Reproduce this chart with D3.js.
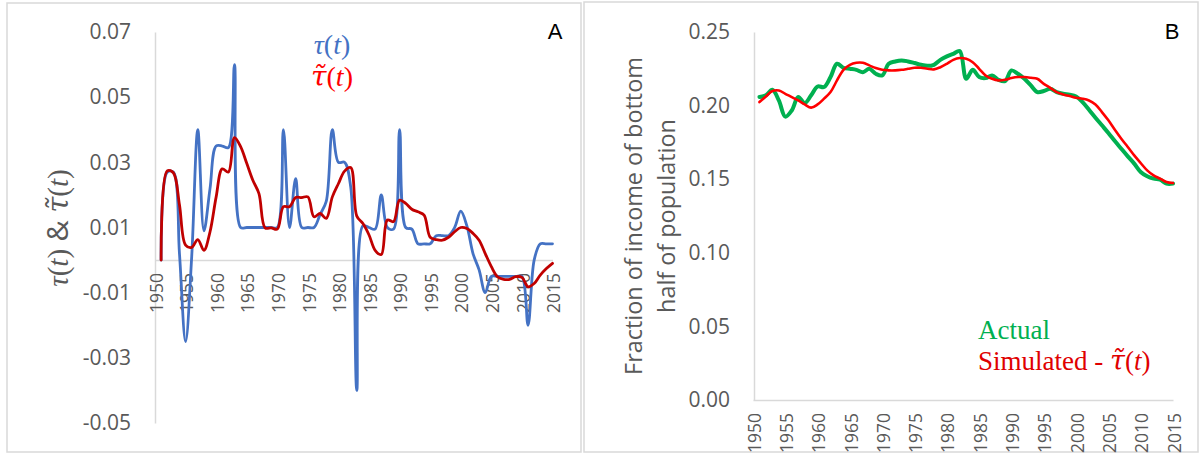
<!DOCTYPE html>
<html>
<head>
<meta charset="utf-8">
<script src="https://cdn.jsdelivr.net/npm/d3@7"></script>
<style>
  body { margin: 0; background: #fff; }
  svg { display: block; }
  .axis path { stroke: #d9d9d9; stroke-width: 1.5px; }
  .axis text { fill: #595959; font-family: 'Open Sans', sans-serif; }
  .ytick text { font-size: 21px; }
  .xtick text { font-size: 17.5px; }
  .line { fill: none; stroke-linejoin: round; stroke-linecap: round; }
  .tilde { font-family: 'DejaVu Serif', serif; font-style: italic; }
</style>
</head>
<body>
<svg id="chart" width="1203" height="454"></svg>
<script>
'use strict';

// years on both panels
var years = [1951, 1952, 1953, 1954, 1955, 1956, 1957, 1958, 1959, 1960,
  1961, 1962, 1963, 1964, 1965, 1966, 1967, 1968, 1969, 1970,
  1971, 1972, 1973, 1974, 1975, 1976, 1977, 1978, 1979, 1980,
  1981, 1982, 1983, 1984, 1985, 1986, 1987, 1988, 1989, 1990,
  1991, 1992, 1993, 1994, 1995, 1996, 1997, 1998, 1999, 2000,
  2001, 2002, 2003, 2004, 2005, 2006, 2007, 2008, 2009, 2010,
  2011, 2012, 2013, 2014, 2015];

// panel A
var tau = [0.000, 0.027, 0.027, 0.002, -0.025, 0.001, 0.040, 0.009, 0.022, 0.035,
  0.035, 0.0345, 0.060, 0.010, 0.010, 0.010, 0.010, 0.010, 0.010, 0.010,
  0.040, 0.010, 0.025, 0.010, 0.010, 0.010, 0.014, 0.018, 0.040, 0.030,
  0.030, 0.0225, -0.040, 0.0105, 0.010, 0.0095, 0.020, 0.010, 0.0095, 0.040,
  0.010, 0.0095, 0.005, 0.005, 0.005, 0.0075, 0.0075, 0.0075, 0.010, 0.015,
  0.0105, 0.002, -0.003, -0.010, -0.005, -0.005, -0.005, -0.005, -0.005, -0.005,
  -0.020, 0.000, 0.005, 0.005, 0.005];
var tauSim = [0.000, 0.0274, 0.0268, 0.017, 0.0046, 0.0039, 0.0063, 0.003, 0.0087, 0.0194,
  0.028, 0.027, 0.0376, 0.0348, 0.0297, 0.0245, 0.0204, 0.0099, 0.0099, 0.0095,
  0.0164, 0.0164, 0.0192, 0.0192, 0.0194, 0.0133, 0.0143, 0.0128, 0.0194, 0.0235,
  0.0273, 0.0284, 0.0135, 0.0112, 0.0077, 0.003, 0.0017, 0.0123, 0.0118, 0.0184,
  0.0174, 0.0156, 0.0148, 0.0138, 0.007, 0.0063, 0.0061, 0.007, 0.0087, 0.010,
  0.0097, 0.0082, 0.0061, 0.002, -0.002, -0.0051, -0.0059, -0.0059, -0.0051, -0.0053,
  -0.0082, -0.0072, -0.0046, -0.0026, -0.001];

// panel B
var actual = [0.2058, 0.207, 0.2108, 0.2035, 0.1925, 0.1967, 0.2058, 0.2017, 0.207, 0.213,
  0.2126, 0.2194, 0.2284, 0.2257, 0.225, 0.2243, 0.2227, 0.225, 0.2216, 0.2205,
  0.2284, 0.230, 0.2307, 0.230, 0.2289, 0.2277, 0.227, 0.2277, 0.2311, 0.2334,
  0.2352, 0.237, 0.2182, 0.2243, 0.2194, 0.2187, 0.2205, 0.2175, 0.2166, 0.2239,
  0.2216, 0.2182, 0.2137, 0.2092, 0.2099, 0.2114, 0.2092, 0.208, 0.2074, 0.2062,
  0.2024, 0.1972, 0.1918, 0.1866, 0.1814, 0.1759, 0.1707, 0.1655, 0.1606, 0.1549,
  0.152, 0.1504, 0.1497, 0.147, 0.147];
var simulated = [0.2024, 0.2062, 0.2099, 0.2103, 0.208, 0.2058, 0.2035, 0.2008, 0.1986, 0.2008,
  0.2047, 0.2092, 0.2171, 0.2243, 0.2277, 0.2291, 0.2291, 0.2273, 0.2255, 0.2243,
  0.2239, 0.2239, 0.2243, 0.225, 0.2257, 0.2257, 0.225, 0.2246, 0.2261, 0.2284,
  0.2311, 0.2323, 0.2318, 0.2295, 0.225, 0.2205, 0.2182, 0.2171, 0.2175, 0.2187,
  0.2194, 0.2194, 0.2189, 0.2182, 0.2148, 0.2121, 0.2092, 0.2076, 0.2065, 0.2053,
  0.2047, 0.2035, 0.2008, 0.1956, 0.19, 0.1836, 0.1775, 0.1719, 0.1662, 0.161,
  0.156, 0.1526, 0.1504, 0.1481, 0.1474];

// tick labels
var xTicks = [1950, 1955, 1960, 1965, 1970, 1975, 1980, 1985, 1990, 1995, 2000, 2005, 2010, 2015];
var yTicksA = [-0.05, -0.03, -0.01, 0.01, 0.03, 0.05, 0.07];
var yTicksB = [0, 0.05, 0.10, 0.15, 0.20, 0.25];

var svg = d3.select('#chart');
var serif = 'Liberation Serif, serif';

// panel frames
svg.append('rect').attr('x', 7).attr('y', 3).attr('width', 574).attr('height', 449)
  .attr('fill', 'none').attr('stroke', '#d9d9d9').attr('stroke-width', 1.5);
svg.append('rect').attr('x', 584).attr('y', 2).attr('width', 614).attr('height', 450)
  .attr('fill', 'none').attr('stroke', '#d9d9d9').attr('stroke-width', 1.5);

function pairs(vals) {
  return years.map(function (y, i) { return [y, vals[i]]; });
}

function xAxis(g, scale, y0) {
  g.attr('class', 'axis xtick')
    .attr('transform', 'translate(0,' + y0 + ')')
    .call(d3.axisBottom(scale).tickValues(xTicks).tickSize(0).tickSizeOuter(0)
      .tickFormat(d3.format('d')));
  g.selectAll('text')
    .attr('transform', 'rotate(-90)')
    .attr('text-anchor', 'end')
    .attr('x', -13)
    .attr('y', 1)
    .attr('dy', '0.35em');
}

function yAxis(g, scale, x0, ticks) {
  var f = d3.format('.2f');
  g.attr('class', 'axis ytick')
    .attr('transform', 'translate(' + x0 + ',0)')
    .call(d3.axisLeft(scale).tickValues(ticks).tickSize(0).tickSizeOuter(0)
      .tickPadding(24).tickFormat(function (d) { return f(d).replace('\u2212', '-'); }));
}

// tau(t) style label; tilde puts a combining tilde on the tau
function mathText(sel, tilde) {
  if (tilde) {
    sel.append('tspan').attr('class', 'tilde').text('τ\u0303');
  } else {
    sel.append('tspan').style('font-family', serif).style('font-style', 'italic').text('τ');
  }
  sel.append('tspan').style('font-family', serif).text('(');
  sel.append('tspan').style('font-family', serif).style('font-style', 'italic').text('t');
  sel.append('tspan').style('font-family', serif).text(')');
}

var curve = d3.curveCatmullRom.alpha(0.5);

// ---- panel A ----
var xA = d3.scaleLinear().domain([1950, 2015]).range([155, 552.5]);
var yA = d3.scaleLinear().domain([-0.05, 0.07]).range([423, 32]);
var lineA = d3.line().x(function (d) { return xA(d[0]); }).y(function (d) { return yA(d[1]); }).curve(curve);

svg.append('g').call(yAxis, yA, 155, yTicksA);
svg.append('g').call(xAxis, xA, yA(0));

svg.append('path').datum(pairs(tau)).attr('class', 'line')
  .attr('stroke', '#4472c4').attr('stroke-width', 2.8).attr('d', lineA);
svg.append('path').datum(pairs(tauSim)).attr('class', 'line')
  .attr('stroke', '#c00000').attr('stroke-width', 2.8).attr('d', lineA);

var titleA = svg.append('text')
  .attr('transform', 'translate(68,228) rotate(-90)')
  .attr('text-anchor', 'middle')
  .attr('fill', '#595959')
  .style('font-size', '29px');
mathText(titleA, false);
titleA.append('tspan').style('font-family', 'Open Sans, sans-serif').text(' & ');
mathText(titleA, true);

// legend A
svg.append('text').attr('x', 332).attr('y', 54).attr('text-anchor', 'middle')
  .attr('fill', '#4472c4').style('font-size', '28px').call(mathText, false);
svg.append('text').attr('x', 332).attr('y', 86).attr('text-anchor', 'middle')
  .attr('fill', '#ff0000').style('font-size', '28px').call(mathText, true);

svg.append('text').attr('x', 555).attr('y', 39).attr('text-anchor', 'middle')
  .style('font-family', 'Liberation Sans, Arial, sans-serif').style('font-size', '22px')
  .attr('fill', '#000').text('A');

// ---- panel B ----
var xB = d3.scaleLinear().domain([1950, 2015]).range([753, 1173]);
var yB = d3.scaleLinear().domain([0, 0.25]).range([400, 32]);
var lineB = d3.line().x(function (d) { return xB(d[0]); }).y(function (d) { return yB(d[1]); }).curve(curve);

svg.append('g').call(yAxis, yB, 754, yTicksB);
svg.append('g').call(xAxis, xB, 400);

svg.append('path').datum(pairs(actual)).attr('class', 'line')
  .attr('stroke', '#00b050').attr('stroke-width', 4).attr('d', lineB);
svg.append('path').datum(pairs(simulated)).attr('class', 'line')
  .attr('stroke', '#ff0000').attr('stroke-width', 2.6).attr('d', lineB);

var titleB = svg.append('text')
  .attr('transform', 'translate(650,216) rotate(-90)')
  .attr('text-anchor', 'middle')
  .attr('fill', '#595959')
  .style('font-family', 'Open Sans, sans-serif')
  .style('font-size', '23.4px');
titleB.append('tspan').attr('x', 0).attr('y', -8).text('Fraction of income of bottom');
titleB.append('tspan').attr('x', 0).attr('y', 25).text('half of population');

svg.append('text').attr('x', 978).attr('y', 339)
  .attr('fill', '#00b050').style('font-family', serif).style('font-size', '27px')
  .text('Actual');
var sim = svg.append('text').attr('x', 978).attr('y', 370)
  .attr('fill', '#e00000').style('font-size', '27px');
sim.append('tspan').style('font-family', serif).text('Simulated - ');
mathText(sim, true);

svg.append('text').attr('x', 1172).attr('y', 39).attr('text-anchor', 'middle')
  .style('font-family', 'Liberation Sans, Arial, sans-serif').style('font-size', '22px')
  .attr('fill', '#000').text('B');
</script>
</body>
</html>
